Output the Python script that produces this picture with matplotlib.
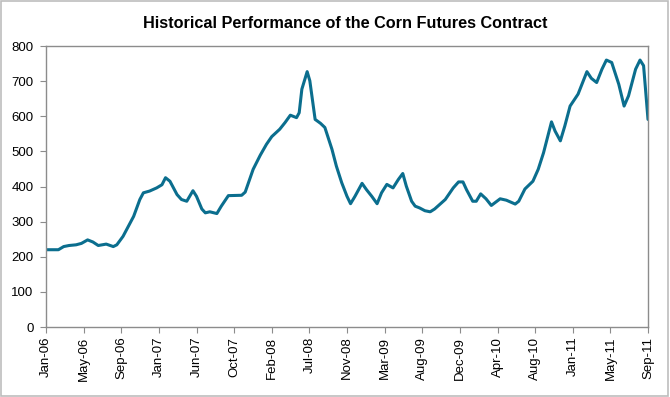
import matplotlib
matplotlib.use("Agg")
import matplotlib.pyplot as plt
from matplotlib.patches import Rectangle

# price readings, x in months since Jan-06
months = [0.0, 1.4, 2.0, 2.6, 3.4, 4.0, 4.7, 5.3, 5.9, 6.8, 7.6, 8.0, 8.7, 9.9,
          10.6, 11.0, 11.7, 12.5, 13.1, 13.5, 14.0, 14.8, 15.3, 15.9, 16.6, 17.0,
          17.6, 18.0, 18.5, 19.3, 19.8, 20.6, 22.1, 22.5, 23.4, 24.2, 24.9, 25.5,
          26.4, 27.0, 27.6, 28.3, 28.6, 28.9, 29.5, 29.8, 30.4, 31.0, 31.5, 32.3,
          32.8, 33.4, 34.0, 34.4, 34.9, 35.7, 36.2, 36.8, 37.4, 37.9, 38.5, 39.2,
          39.8, 40.3, 40.7, 41.3, 41.7, 42.2, 42.8, 43.4, 43.9, 45.1, 46.0, 46.6,
          47.1, 47.5, 48.2, 48.6, 49.1, 49.7, 50.3, 51.3, 52.0, 53.0, 53.4, 54.1,
          55.0, 55.6, 56.2, 57.1, 57.5, 58.1, 58.6, 59.2, 60.1, 61.1, 61.6, 62.2,
          62.8, 63.3, 63.9, 64.7, 65.3, 65.8, 66.6, 67.1, 67.5, 68.0]
prices = [220, 220, 229, 232, 234, 238, 248, 242, 232, 236, 229, 234, 258, 315,
          363, 382, 387, 396, 405, 425, 415, 377, 363, 358, 388, 372,
          336, 325, 328, 323, 344, 374, 375, 384, 449, 489, 520, 542,
          563, 582, 603, 596, 610, 677, 727, 701, 591, 580, 568, 506,
          458, 411, 372, 351, 372, 409, 391, 372, 351, 382, 406, 396,
          420, 437, 401, 358, 344, 339, 331, 328, 336, 363, 396, 413,
          413, 391, 358, 358, 379, 365, 346, 365, 361, 350, 358, 393,
          415, 449, 496, 584, 558, 530, 572, 629, 663, 727, 708, 696,
          734, 760, 753, 691, 629, 658, 734, 760, 744, 591]

tick_labels = ["Jan-06", "May-06", "Sep-06", "Jan-07", "Jun-07", "Oct-07",
               "Feb-08", "Jul-08", "Nov-08", "Mar-09", "Aug-09", "Dec-09",
               "Apr-10", "Aug-10", "Jan-11", "May-11", "Sep-11"]
y_ticks = [0, 100, 200, 300, 400, 500, 600, 700, 800]

plt.rcParams['font.family'] = ['Liberation Sans', 'DejaVu Sans']

fig = plt.figure(figsize=(6.7, 3.97), dpi=100)
ax = fig.add_axes([46/670, 1 - 327/397, 602/670, 281/397])

ax.plot(months, prices, color='#0B6E8E', linewidth=2.2,
        solid_joinstyle='round', solid_capstyle='round')

n = len(tick_labels)
ax.set_xticks([months[-1] * i / (n - 1) for i in range(n)])
ax.set_xticklabels(tick_labels, rotation=90, fontsize=9.5)
ax.set_yticks(y_ticks)
ax.set_yticklabels([str(v) for v in y_ticks], fontsize=9.5)
ax.set_xlim(0, months[-1])
ax.set_ylim(0, 800)

for s in ax.spines.values():
    s.set_color('#8C8C8C')
    s.set_linewidth(1.0)
ax.tick_params(axis='both', direction='out', length=4, width=0.8,
               color='#8C8C8C')
ax.tick_params(axis='y', pad=5)
ax.tick_params(axis='x', pad=3)

fig.text(345/670, 1 - 23.5/397, "Historical Performance of the Corn Futures Contract",
         ha='center', va='center', fontsize=11.7, fontweight='bold')

# light grey frame round the whole chart
fig.patches.append(Rectangle((0.001, 0.002), 0.996, 0.995, transform=fig.transFigure,
                             fill=False, edgecolor='#BDBDBD', linewidth=1.2))

fig.savefig("out.png", dpi=100)
